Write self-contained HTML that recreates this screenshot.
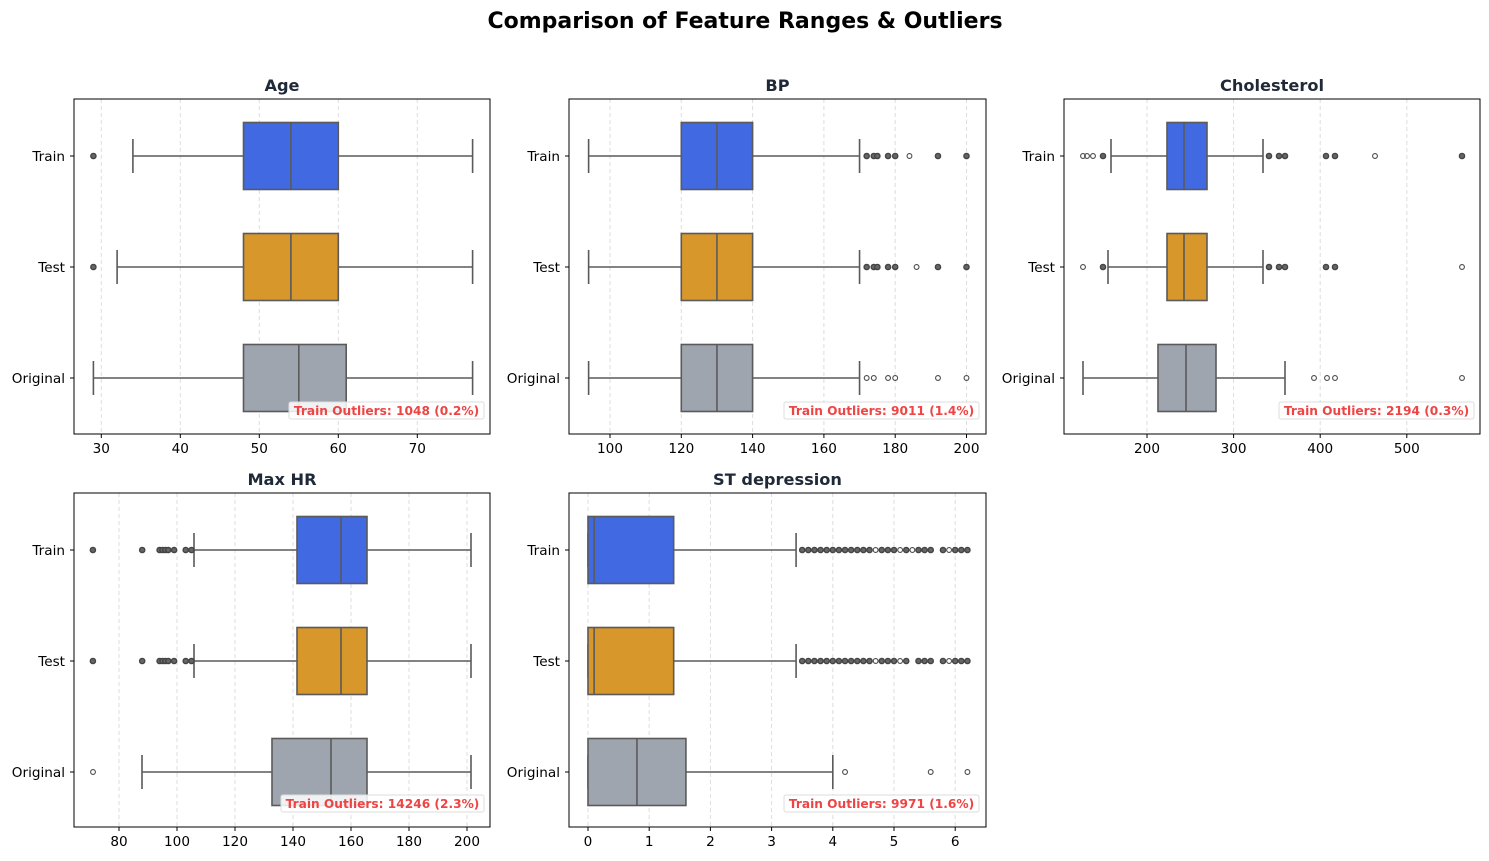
<!DOCTYPE html>
<html><head><meta charset="utf-8"><style>
body{margin:0;background:#fff;}
svg{display:block;font-family:"DejaVu Sans","Liberation Sans",sans-serif;}
</style></head><body>
<svg id="s" width="1489" height="861" xmlns="http://www.w3.org/2000/svg">
<rect width="1489" height="861" fill="#fff"/>
<text x="745" y="28" text-anchor="middle" font-size="22" font-weight="bold" fill="#000">Comparison of Feature Ranges &amp; Outliers</text>
</svg>
<script>
const S=document.getElementById('s');let h='';
const EC='#5a5a5a';
const cols=['#4169e1','#d8972b','#9ea5af'];
function panel(p){
 const {x0,x1,y0,y1,title,ticks,ann,ax,ay,aw}=p;
 const cy=[y0+57,y0+168,y0+279];
 ticks.forEach(t=>{h+=`<line x1="${t[0]}" x2="${t[0]}" y1="${y0}" y2="${y1}" stroke="#ddd" stroke-dasharray="4,3" stroke-width="1"/>`;
  h+=`<line x1="${t[0]}" x2="${t[0]}" y1="${y1}" y2="${y1+4}" stroke="#000"/>`;
  h+=`<text x="${t[0]}" y="${y1+19}" text-anchor="middle" font-size="13.6">${t[1]}</text>`;});
 ['Train','Test','Original'].forEach((n,i)=>{h+=`<line x1="${x0-4}" x2="${x0}" y1="${cy[i]}" y2="${cy[i]}" stroke="#000"/><text x="${x0-9}" y="${cy[i]+5}" text-anchor="end" font-size="13.6">${n}</text>`;});
 p.boxes.forEach((b,i)=>{const c=cy[i];
  h+=`<line x1="${b.w0}" x2="${b.q1}" y1="${c}" y2="${c}" stroke="${EC}" stroke-width="1.6"/><line x1="${b.q3}" x2="${b.w1}" y1="${c}" y2="${c}" stroke="${EC}" stroke-width="1.6"/>`;
  h+=`<line x1="${b.w0}" x2="${b.w0}" y1="${c-17}" y2="${c+17}" stroke="${EC}" stroke-width="1.6"/><line x1="${b.w1}" x2="${b.w1}" y1="${c-17}" y2="${c+17}" stroke="${EC}" stroke-width="1.6"/>`;
  h+=`<rect x="${b.q1}" y="${c-33.5}" width="${b.q3-b.q1}" height="67" fill="${cols[i]}" stroke="${EC}" stroke-width="1.6"/>`;
  h+=`<line x1="${b.md}" x2="${b.md}" y1="${c-33.5}" y2="${c+33.5}" stroke="${EC}" stroke-width="1.6"/>`;
  (b.f||[]).forEach(x=>{h+=`<circle cx="${x}" cy="${c}" r="2.6" fill="#666" stroke="#444" stroke-width="1.4"/>`;});
  (b.o||[]).forEach(x=>{h+=`<circle cx="${x}" cy="${c}" r="2.4" fill="none" stroke="#4a4a4a" stroke-width="1.1"/>`;});
 });
 h+=`<rect x="${ax}" y="${ay}" width="${aw}" height="17" rx="2" fill="#fff" fill-opacity="0.85" stroke="#ddd"/>`;
 h+=`<text x="${ax+aw/2}" y="${ay+13}" text-anchor="middle" font-size="12.2" font-weight="bold" fill="#ef4444">${ann}</text>`;
 h+=`<rect x="${x0}" y="${y0}" width="${x1-x0}" height="${y1-y0}" fill="none" stroke="#000" stroke-width="1"/>`;
 h+=`<text x="${(x0+x1)/2}" y="${y0-8}" text-anchor="middle" font-size="16.2" font-weight="bold" fill="#1f2937">${title}</text>`;
}
const A=v=>101.3+(v-30)*7.9;
panel({x0:74,x1:490,y0:99,y1:434,title:'Age',ticks:[30,40,50,60,70].map(v=>[A(v),v]),ann:'Train Outliers: 1048 (0.2%)',ax:289,ay:402,aw:195,
 boxes:[{w0:A(34),q1:A(48),md:A(54),q3:A(60),w1:A(77),f:[A(29)]},{w0:A(32),q1:A(48),md:A(54),q3:A(60),w1:A(77),f:[A(29)]},{w0:A(29),q1:A(48),md:A(55),q3:A(61),w1:A(77)}]});
const B=v=>610+(v-100)*3.565;
panel({x0:569,x1:986,y0:99,y1:434,title:'BP',ticks:[100,120,140,160,180,200].map(v=>[B(v),v]),ann:'Train Outliers: 9011 (1.4%)',ax:784,ay:402,aw:195,
 boxes:[{w0:B(94),q1:B(120),md:B(130),q3:B(140),w1:B(170),f:[172,174,175,178,180,192,200].map(B),o:[B(184)]},
 {w0:B(94),q1:B(120),md:B(130),q3:B(140),w1:B(170),f:[172,174,175,178,180,192,200].map(B),o:[B(186)]},
 {w0:B(94),q1:B(120),md:B(130),q3:B(140),w1:B(170),o:[172,174,178,180,192,200].map(B)}]});
const C=v=>1147+(v-200)*0.866;
panel({x0:1064,x1:1480,y0:99,y1:434,title:'Cholesterol',ticks:[200,300,400,500].map(v=>[C(v),v]),ann:'Train Outliers: 2194 (0.3%)',ax:1279,ay:402,aw:195,
 boxes:[{w0:1111,q1:1167,md:1184,q3:1207,w1:1263,f:[1103,1269,1279,1285,1326,1335,1462],o:[1083,1087,1093,1375]},
 {w0:1108,q1:1167,md:1184,q3:1207,w1:1263,f:[1103,1269,1279,1285,1326,1335],o:[1083,1462]},
 {w0:1083,q1:1158,md:1186,q3:1216,w1:1285,o:[1314,1327,1335,1462]}]});
const M=v=>119+(v-80)*2.9;
const hrF=[71,88,94,95,96,97,99,103,105].map(M);
panel({x0:74,x1:490,y0:493,y1:827,title:'Max HR',ticks:[80,100,120,140,160,180,200].map(v=>[M(v),v]),ann:'Train Outliers: 14246 (2.3%)',ax:281,ay:795,aw:203,
 boxes:[{w0:194,q1:297,md:341,q3:367,w1:471,f:hrF},{w0:194,q1:297,md:341,q3:367,w1:471,f:hrF},{w0:142,q1:272,md:331,q3:367,w1:471,o:[93]}]});
const T=v=>588+v*61.2;
const r=(a,b)=>{let o=[];for(let v=a;v<=b+1e-6;v+=0.1)o.push(+v.toFixed(1));return o;};
const trO=[4.7,5.1,5.3,5.9],teO=[4.7,5.1,5.9];
const trAll=r(3.5,6.2).filter(v=>v!==5.7);
const teAll=r(3.5,6.2).filter(v=>v!==5.3&&v!==5.7);
panel({x0:569,x1:986,y0:493,y1:827,title:'ST depression',ticks:[0,1,2,3,4,5,6].map(v=>[T(v),v]),ann:'Train Outliers: 9971 (1.6%)',ax:784,ay:795,aw:195,
 boxes:[{w0:T(0),q1:T(0),md:T(0.1),q3:T(1.4),w1:T(3.4),f:trAll.filter(v=>!trO.includes(v)).map(T),o:trO.map(T)},
 {w0:T(0),q1:T(0),md:T(0.1),q3:T(1.4),w1:T(3.4),f:teAll.filter(v=>!teO.includes(v)).map(T),o:teO.map(T)},
 {w0:T(0),q1:T(0),md:T(0.8),q3:T(1.6),w1:T(4.0),o:[4.2,5.6,6.2].map(T)}]});
S.insertAdjacentHTML('beforeend',h);
</script>
</body></html>
